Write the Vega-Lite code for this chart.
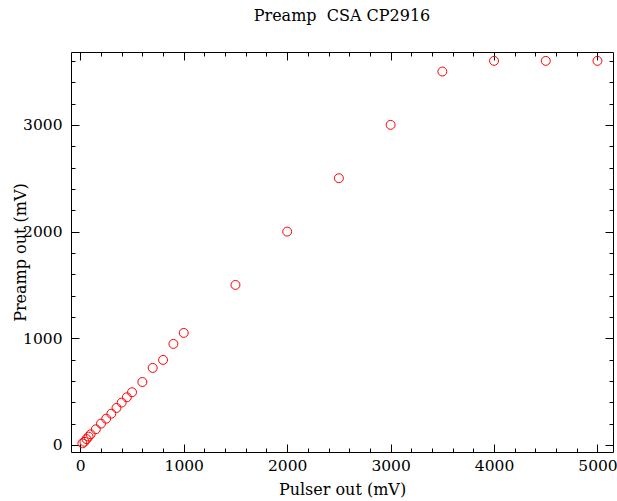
{
  "$schema": "https://vega.github.io/schema/vega-lite/v6.json",
  "width": 542,
  "height": 400,
  "autosize": {"type": "none"},
  "padding": {"left": 71, "top": 52, "right": 4, "bottom": 49},
  "background": "white",
  "title": {"text": "Preamp\u00a0\u00a0CSA CP2916", "font": "DejaVu Serif", "fontSize": 16, "fontWeight": "normal", "color": "black", "anchor": "middle", "offset": 28},
  "config": {
    "view": {"stroke": "black", "strokeWidth": 1},
    "axis": {"domain": false, "grid": false, "labelFont": "DejaVu Serif", "labelFontSize": 15.5, "labelColor": "black", "titleFont": "DejaVu Serif", "titleFontSize": 16, "titleFontWeight": "normal", "titleColor": "black", "tickColor": "black", "tickWidth": 1, "format": "d"}
  },
  "data": {"values": [
    {"pulser": 20, "preamp": 15},
    {"pulser": 40, "preamp": 30},
    {"pulser": 60, "preamp": 55},
    {"pulser": 80, "preamp": 78},
    {"pulser": 100, "preamp": 100},
    {"pulser": 150, "preamp": 147},
    {"pulser": 200, "preamp": 200},
    {"pulser": 250, "preamp": 246},
    {"pulser": 300, "preamp": 293},
    {"pulser": 350, "preamp": 347},
    {"pulser": 400, "preamp": 397},
    {"pulser": 450, "preamp": 447},
    {"pulser": 500, "preamp": 494},
    {"pulser": 600, "preamp": 590},
    {"pulser": 700, "preamp": 722},
    {"pulser": 800, "preamp": 797},
    {"pulser": 900, "preamp": 947},
    {"pulser": 1000, "preamp": 1050},
    {"pulser": 1500, "preamp": 1500},
    {"pulser": 2000, "preamp": 2000},
    {"pulser": 2500, "preamp": 2500},
    {"pulser": 3000, "preamp": 3000},
    {"pulser": 3500, "preamp": 3500},
    {"pulser": 4000, "preamp": 3600},
    {"pulser": 4500, "preamp": 3600},
    {"pulser": 5000, "preamp": 3600}
  ]},
  "resolve": {"axis": {"x": "independent", "y": "independent"}},
  "layer": [
    {
      "mark": {"type": "point", "shape": "circle", "filled": false, "color": "red", "size": 80, "strokeWidth": 1, "opacity": 1},
      "encoding": {
        "x": {"field": "pulser", "type": "quantitative", "scale": {"domain": [-90, 5150], "nice": false, "zero": false},
              "axis": {"orient": "bottom", "values": [0, 1000, 2000, 3000, 4000, 5000], "format": "d", "tickSize": -8, "labelPadding": 14, "title": "Pulser out (mV)", "titlePadding": 8, "labelFlush": false}},
        "y": {"field": "preamp", "type": "quantitative", "scale": {"domain": [-66, 3683], "nice": false, "zero": false},
              "axis": {"orient": "left", "values": [0, 1000, 2000, 3000], "format": "d", "tickSize": -8, "labelPadding": 17, "title": "Preamp out (mV)", "titleX": -51, "titleY": 200, "titleAngle": -90, "titleAlign": "center", "titleBaseline": "middle", "labelFlush": false}}
      }
    },
    {
      "mark": {"type": "point", "opacity": 0},
      "encoding": {
        "x": {"field": "pulser", "type": "quantitative", "axis": {"orient": "bottom", "values": [200, 400, 600, 800, 1200, 1400, 1600, 1800, 2200, 2400, 2600, 2800, 3200, 3400, 3600, 3800, 4200, 4400, 4600, 4800], "tickSize": -4, "labels": false, "title": null}},
        "y": {"field": "preamp", "type": "quantitative", "axis": {"orient": "left", "values": [200, 400, 600, 800, 1200, 1400, 1600, 1800, 2200, 2400, 2600, 2800, 3200, 3400, 3600], "tickSize": -4, "labels": false, "title": null}}
      }
    },
    {
      "mark": {"type": "point", "opacity": 0},
      "encoding": {
        "x": {"field": "pulser", "type": "quantitative", "axis": {"orient": "top", "values": [0, 1000, 2000, 3000, 4000, 5000], "tickSize": -8, "labels": false, "title": null}},
        "y": {"field": "preamp", "type": "quantitative", "axis": {"orient": "right", "values": [0, 1000, 2000, 3000], "tickSize": -8, "labels": false, "title": null}}
      }
    },
    {
      "mark": {"type": "point", "opacity": 0},
      "encoding": {
        "x": {"field": "pulser", "type": "quantitative", "axis": {"orient": "top", "values": [200, 400, 600, 800, 1200, 1400, 1600, 1800, 2200, 2400, 2600, 2800, 3200, 3400, 3600, 3800, 4200, 4400, 4600, 4800], "tickSize": -4, "labels": false, "title": null}},
        "y": {"field": "preamp", "type": "quantitative", "axis": {"orient": "right", "values": [200, 400, 600, 800, 1200, 1400, 1600, 1800, 2200, 2400, 2600, 2800, 3200, 3400, 3600], "tickSize": -4, "labels": false, "title": null}}
      }
    }
  ]
}
